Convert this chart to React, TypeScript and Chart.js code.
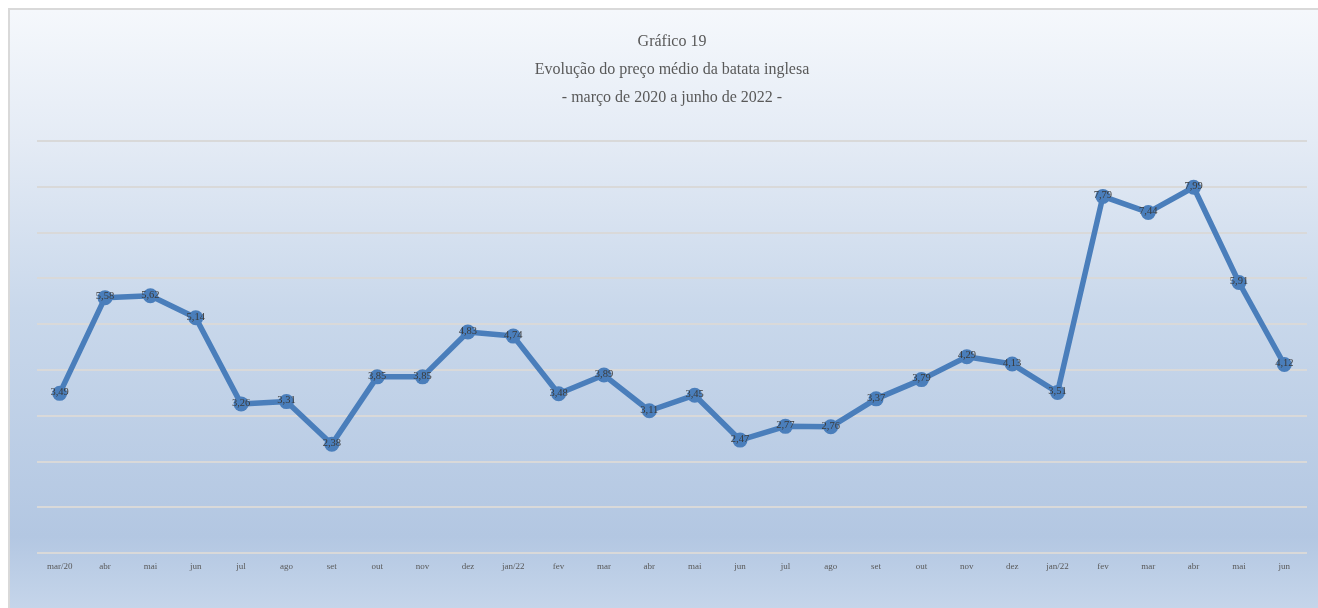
import React, { useEffect, useRef } from "react";
import { Chart, registerables } from "chart.js";

Chart.register(...registerables);

const categories: string[] = [
  "mar/20", "abr", "mai", "jun", "jul", "ago", "set", "out", "nov", "dez",
  "jan/22", "fev", "mar", "abr", "mai", "jun", "jul", "ago", "set", "out",
  "nov", "dez", "jan/22", "fev", "mar", "abr", "mai", "jun",
];

const prices: number[] = [
  3.49, 5.58, 5.62, 5.14, 3.26, 3.31, 2.38, 3.85, 3.85, 4.83,
  4.74, 3.48, 3.89, 3.11, 3.45, 2.47, 2.77, 2.76, 3.37, 3.79,
  4.29, 4.13, 3.51, 7.79, 7.44, 7.99, 5.91, 4.12,
];

const titleLines: string[] = [
  "Gráfico 19",
  "Evolução do preço médio da batata inglesa",
  "- março de 2020 a junho de 2022 -",
];

const SERIF = '"Liberation Serif", "Times New Roman", Times, serif';

const dataLabelPlugin = {
  id: "dataLabels",
  afterDatasetsDraw(chart: any) {
    const ctx = chart.ctx;
    const meta = chart.getDatasetMeta(0);
    const data = chart.data.datasets[0].data as number[];
    ctx.save();
    ctx.font = `10.5px ${SERIF}`;
    ctx.fillStyle = "#3a3a3a";
    ctx.textAlign = "center";
    ctx.textBaseline = "middle";
    meta.data.forEach((pt: any, i: number) => {
      const txt = data[i].toFixed(2).replace(".", ",");
      ctx.fillText(txt, pt.x, pt.y - 1);
    });
    ctx.restore();
  },
};

export default function App() {
  const canvasRef = useRef<HTMLCanvasElement | null>(null);

  useEffect(() => {
    document.body.style.overflow = "hidden";
    if (!canvasRef.current) return;
    const chart = new Chart(canvasRef.current, {
      type: "line",
      data: {
        labels: categories,
        datasets: [
          {
            label: "Preço médio",
            data: prices,
            borderColor: "#4a7ebb",
            backgroundColor: "#4a7ebb",
            borderWidth: 5.5,
            tension: 0,
            pointRadius: 7.5,
            pointBackgroundColor: "#4a7ebb",
            pointBorderWidth: 0,
            borderJoinStyle: "round",
            borderCapStyle: "round",
          },
        ],
      },
      options: {
        responsive: false,
        animation: false,
        layout: { padding: { left: 27, right: 11, top: 0, bottom: 28 } },
        plugins: {
          legend: { display: false },
          tooltip: { enabled: false },
          title: {
            display: true,
            text: titleLines,
            color: "#595959",
            font: { family: SERIF, size: 16, weight: "normal", lineHeight: 1.75 },
            padding: { top: 18, bottom: 29 },
          },
        },
        scales: {
          x: {
            offset: true,
            grid: { display: false, drawTicks: false },
            border: { display: false },
            ticks: {
              color: "#595959",
              font: { family: SERIF, size: 9 },
              padding: 8,
              maxRotation: 0,
              autoSkip: false,
            },
          },
          y: {
            min: 0,
            max: 9,
            ticks: { display: false, stepSize: 1 },
            grid: { color: "#d9d9d9", lineWidth: 2, drawTicks: false },
            border: { display: false },
          },
        },
      },
      plugins: [dataLabelPlugin],
    });
    return () => chart.destroy();
  }, []);

  return (
    <div
      style={{
        position: "fixed",
        left: 8,
        top: 8,
        width: 1310,
        height: 600,
        boxSizing: "border-box",
        borderTop: "2px solid #d9d9d9",
        borderLeft: "2px solid #d9d9d9",
        background:
          "linear-gradient(180deg, #f5f8fc 0%, #e4ebf5 22%, #c9d8eb 50%, #b3c7e2 88%, #c5d5ea 100%)",
        overflow: "hidden",
      }}
    >
      <canvas ref={canvasRef} width={1308} height={598} style={{ display: "block" }} />
    </div>
  );
}
